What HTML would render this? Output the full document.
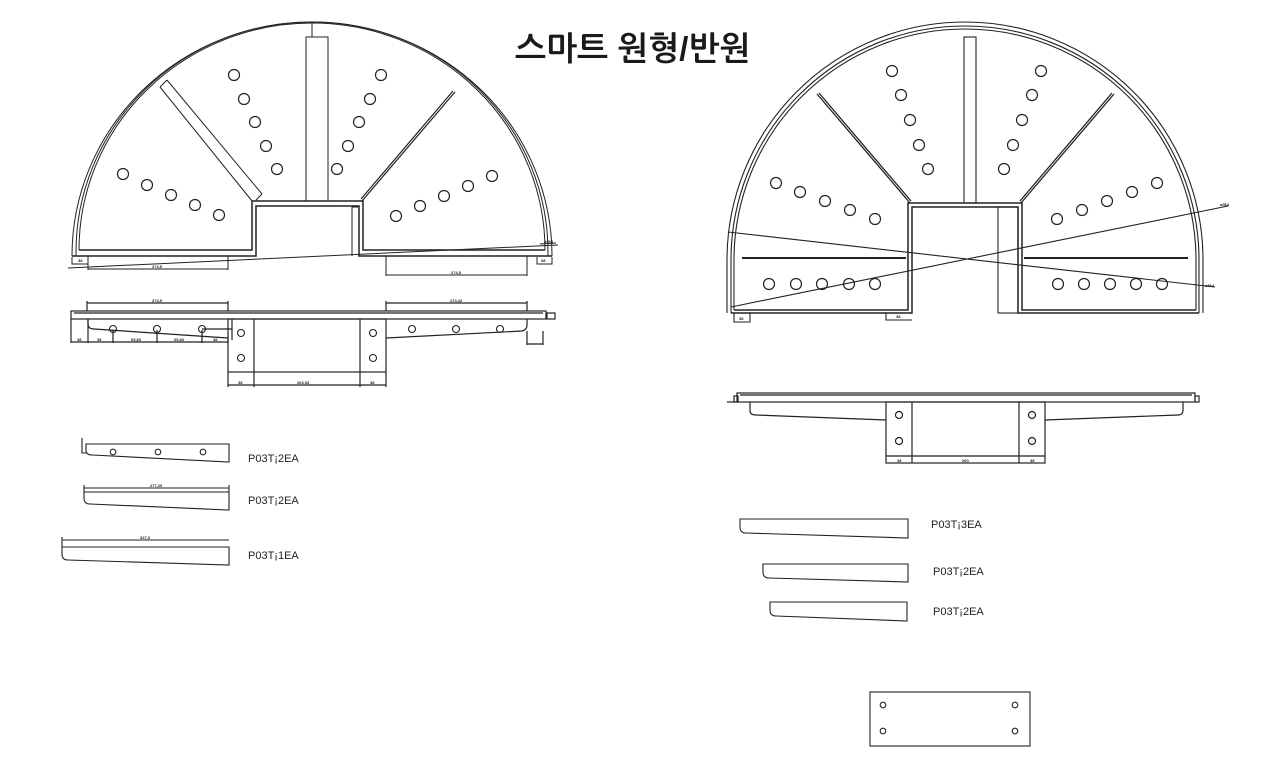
<!DOCTYPE html>
<html><head><meta charset="utf-8"><style>
html,body{margin:0;padding:0;background:#fff;}
svg{display:block;}
.t{font-family:"Liberation Sans","NanumGothic","Noto Sans CJK KR",sans-serif;}
</style></head><body>
<svg width="1281" height="766" viewBox="0 0 1281 766" xmlns="http://www.w3.org/2000/svg" fill="none" stroke="#222" stroke-width="1">
<text x="515" y="60" class="t" font-size="33" font-weight="bold" fill="#1a1a1a" stroke="none">스마트 원형/반원</text>

<!-- LEFT HALF CIRCLE -->
<g stroke-width="1">
<path d="M72,256 A240,234 0 0 1 552,256"/>
<path d="M76,252 A236,230 0 0 1 548,252"/>
<path d="M79,250 A233,227 0 0 1 545,250"/>
<path d="M72,256 L256,256 L256,206 L359,206 L359,256 L552,256" stroke-width="1.5"/>
<path d="M79,250 L252,250 L252,201 L363,201 L363,250 L545,250" stroke-width="1.5"/>
<path d="M76,252 L76,256 M548,252 L548,256"/>
<rect x="306" y="37" width="22" height="164"/>
<line x1="312" y1="22" x2="312" y2="37"/>
<path d="M160,87 L252,201 M167,80 L262,194 M160,87 L167,80 M262,194 L256,200"/>
<path d="M455,92 L362,201 M453,91 L361,199" stroke-width="1.2"/>
<path d="M352,207 L352,256 M352,207 L358,207"/>
<path d="M88,256 L88,270 M228,256 L228,270 M88,269 L228,269"/>
<path d="M386,256 L386,276 M527,256 L527,276 M386,275 L527,275"/>
<path d="M72,257 L72,264 L88,264 M537,257 L537,264 L552,264 L552,257"/>
<line x1="68" y1="268" x2="558" y2="245"/>
<line x1="540" y1="244" x2="556" y2="243"/>
</g>
<g stroke="#222" stroke-width="1.2">
<circle cx="123" cy="174" r="5.5"/><circle cx="147" cy="185" r="5.5"/><circle cx="171" cy="195" r="5.5"/><circle cx="195" cy="205" r="5.5"/><circle cx="219" cy="215" r="5.5"/>
<circle cx="234" cy="75" r="5.5"/><circle cx="244" cy="99" r="5.5"/><circle cx="255" cy="122" r="5.5"/><circle cx="266" cy="146" r="5.5"/><circle cx="277" cy="169" r="5.5"/>
<circle cx="381" cy="75" r="5.5"/><circle cx="370" cy="99" r="5.5"/><circle cx="359" cy="122" r="5.5"/><circle cx="348" cy="146" r="5.5"/><circle cx="337" cy="169" r="5.5"/>
<circle cx="492" cy="176" r="5.5"/><circle cx="468" cy="186" r="5.5"/><circle cx="444" cy="196" r="5.5"/><circle cx="420" cy="206" r="5.5"/><circle cx="396" cy="216" r="5.5"/>
</g>
<g font-family="Liberation Sans" font-size="4" fill="#222" stroke="none" font-weight="bold">
<text x="152" y="268">274,5</text><text x="451" y="274">274,5</text><text x="78" y="262">38</text><text x="541" y="262">38</text><text x="544" y="243">ø564</text>
</g>

<!-- LEFT SIDE VIEW -->
<g stroke-width="1.2">
<rect x="71" y="311" width="475" height="8"/>
<line x1="74" y1="313" x2="543" y2="313"/>
<path d="M88,319 L88,324 Q88,329 94,329 L228,338"/>
<rect x="228" y="319" width="158" height="53"/>
<line x1="254" y1="319" x2="254" y2="372"/><line x1="360" y1="319" x2="360" y2="372"/>
<path d="M386,338 L522,331 Q527,330 527,325 L527,319"/>
<path d="M87,301 L87,311 M228,301 L228,311 M87,303 L228,303"/>
<path d="M386,301 L386,311 M527,301 L527,311 M386,303 L527,303"/>
<path d="M71,319 L71,343 M88,319 L88,343 M113,330 L113,343 M157,330 L157,343 M202,330 L202,343 M228,338 L228,343 M71,342 L228,342"/>
<path d="M202,329 L232,329 M232,319 L232,340"/>
<path d="M228,372 L228,387 M254,372 L254,387 M360,372 L360,387 M386,372 L386,387 M228,385 L386,385"/>
<path d="M527,331 L527,345 M543,331 L543,345 M527,344 L543,344"/>
<rect x="547" y="313" width="8" height="6"/>
</g>
<g stroke-width="1.1">
<circle cx="113" cy="329" r="3.5"/><circle cx="157" cy="329" r="3.5"/><circle cx="202" cy="329" r="3.5"/>
<circle cx="412" cy="329" r="3.5"/><circle cx="456" cy="329" r="3.5"/><circle cx="500" cy="329" r="3.5"/>
<circle cx="241" cy="333" r="3.5"/><circle cx="241" cy="358" r="3.5"/><circle cx="373" cy="333" r="3.5"/><circle cx="373" cy="358" r="3.5"/>
</g>
<g font-family="Liberation Sans" font-size="4" fill="#222" stroke="none" font-weight="bold">
<text x="152" y="302">274,5</text><text x="450" y="302">274,42</text><text x="77" y="341">38</text><text x="97" y="341">38</text><text x="131" y="341">65,83</text><text x="174" y="341">65,83</text><text x="213" y="341">38</text>
<text x="238" y="384">38</text><text x="297" y="384">263,53</text><text x="370" y="384">38</text>
</g>

<!-- LEFT PIECES -->
<g stroke-width="1.1">
<path d="M86,444 L229,444 L229,462 L92,455 Q86,455 86,450 Z"/>
<path d="M82,444 L82,453 L86,453 M82,438 L82,444"/>
<circle cx="113" cy="452" r="2.8"/><circle cx="158" cy="452" r="2.8"/><circle cx="203" cy="452" r="2.8"/>
<path d="M84,492 L229,492 L229,510 L90,504 Q84,504 84,498 Z"/>
<path d="M84,488 L229,488 M84,485 L84,492 M229,485 L229,492"/>
<path d="M62,547 L229,547 L229,565 L68,560 Q62,560 62,554 Z"/>
<path d="M62,540 L229,540 M62,537 L62,547"/>
</g>
<g font-family="Liberation Sans" font-size="11" fill="#222" stroke="none">
<text x="248" y="462">P03T¡2EA</text><text x="248" y="504">P03T¡2EA</text><text x="248" y="559">P03T¡1EA</text>
</g>
<g font-family="Liberation Sans" font-size="4" fill="#222" stroke="none" font-weight="bold"><text x="150" y="487">277,29</text><text x="140" y="539">327,3</text></g>

<!-- RIGHT HALF CIRCLE -->
<g stroke-width="1.1">
<path d="M727,313 L727,260 A238,238 0 0 1 1203,260 L1203,313"/>
<path d="M731,313 L731,260 A234,234 0 0 1 1199,260 L1199,313"/>
<path d="M734,310 L734,260 A231,231 0 0 1 1196,260 L1196,310"/>
<path d="M731,313 L912,313 L912,207 L1018,207 L1018,313 L1199,313" stroke-width="1.5"/>
<path d="M734,310 L908,310 L908,203 L1022,203 L1022,310 L1196,310" stroke-width="1.5"/>
<rect x="964" y="37" width="12" height="166"/>
<path d="M817,94 L910,203 M819,93 L911,201" stroke-width="1.3"/>
<path d="M1114,94 L1021,203 M1112,93 L1020,201" stroke-width="1.3"/>
<line x1="742" y1="258" x2="906" y2="258" stroke-width="2"/>
<line x1="1024" y1="258" x2="1188" y2="258" stroke-width="2"/>
<rect x="998" y="207" width="20" height="106"/>
<line x1="728" y1="232" x2="1215" y2="287"/>
<line x1="731" y1="307" x2="1228" y2="206"/>
<path d="M734,313 L734,322 L750,322 L750,313 M886,313 L886,320 L912,320"/>
</g>
<g stroke-width="1.2">
<circle cx="892" cy="71" r="5.5"/><circle cx="901" cy="95" r="5.5"/><circle cx="910" cy="120" r="5.5"/><circle cx="919" cy="145" r="5.5"/><circle cx="928" cy="169" r="5.5"/>
<circle cx="1041" cy="71" r="5.5"/><circle cx="1032" cy="95" r="5.5"/><circle cx="1022" cy="120" r="5.5"/><circle cx="1013" cy="145" r="5.5"/><circle cx="1004" cy="169" r="5.5"/>
<circle cx="776" cy="183" r="5.5"/><circle cx="800" cy="192" r="5.5"/><circle cx="825" cy="201" r="5.5"/><circle cx="850" cy="210" r="5.5"/><circle cx="875" cy="219" r="5.5"/>
<circle cx="1057" cy="219" r="5.5"/><circle cx="1082" cy="210" r="5.5"/><circle cx="1107" cy="201" r="5.5"/><circle cx="1132" cy="192" r="5.5"/><circle cx="1157" cy="183" r="5.5"/>
<circle cx="769" cy="284" r="5.5"/><circle cx="796" cy="284" r="5.5"/><circle cx="822" cy="284" r="5.5"/><circle cx="849" cy="284" r="5.5"/><circle cx="875" cy="284" r="5.5"/>
<circle cx="1058" cy="284" r="5.5"/><circle cx="1084" cy="284" r="5.5"/><circle cx="1110" cy="284" r="5.5"/><circle cx="1136" cy="284" r="5.5"/><circle cx="1162" cy="284" r="5.5"/>
</g>
<g font-family="Liberation Sans" font-size="4" fill="#222" stroke="none" font-weight="bold"><text x="1220" y="206">ø564</text><text x="1205" y="287">ø564</text><text x="739" y="320">38</text><text x="896" y="318">38</text></g>

<!-- RIGHT SIDE VIEW -->
<g stroke-width="1.2">
<rect x="737" y="393" width="458" height="9"/>
<line x1="740" y1="395" x2="1192" y2="395"/>
<rect x="734" y="396" width="4" height="6"/><rect x="1195" y="396" width="4" height="6"/>
<line x1="727" y1="402" x2="737" y2="402"/>
<path d="M750,402 L750,411 Q750,415 756,415 L886,420"/>
<rect x="886" y="402" width="159" height="61"/>
<line x1="912" y1="402" x2="912" y2="463"/><line x1="1019" y1="402" x2="1019" y2="463"/>
<path d="M1045,420 L1178,415 Q1183,415 1183,410 L1183,402"/>
<line x1="886" y1="456" x2="1045" y2="456"/>
<circle cx="899" cy="415" r="3.5"/><circle cx="899" cy="441" r="3.5"/><circle cx="1032" cy="415" r="3.5"/><circle cx="1032" cy="441" r="3.5"/>
</g>
<g font-family="Liberation Sans" font-size="4" fill="#222" stroke="none" font-weight="bold"><text x="897" y="462">38</text><text x="962" y="462">260</text><text x="1030" y="462">38</text></g>

<!-- RIGHT PIECES -->
<g stroke-width="1.1">
<path d="M740,519 L908,519 L908,538 L746,533 Q740,533 740,527 Z"/>
<path d="M763,564 L908,564 L908,582 L769,578 Q763,578 763,572 Z"/>
<path d="M770,602 L907,602 L907,621 L776,616 Q770,616 770,610 Z"/>
<rect x="870" y="692" width="160" height="54"/>
<circle cx="883" cy="705" r="2.8"/><circle cx="1015" cy="705" r="2.8"/><circle cx="883" cy="731" r="2.8"/><circle cx="1015" cy="731" r="2.8"/>
</g>
<g font-family="Liberation Sans" font-size="11" fill="#222" stroke="none">
<text x="931" y="528">P03T¡3EA</text><text x="933" y="575">P03T¡2EA</text><text x="933" y="615">P03T¡2EA</text>
</g>
</svg>
</body></html>
